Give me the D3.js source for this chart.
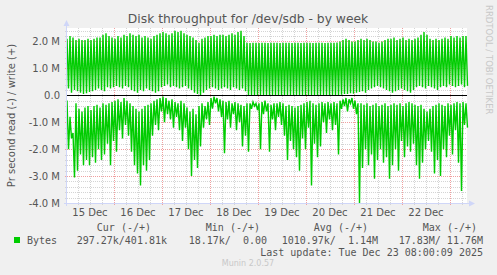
<!DOCTYPE html>
<html>
<head>
<meta charset="utf-8">
<script src="https://cdn.jsdelivr.net/npm/d3@7"></script>
<style>
body { margin: 0; background: #F0F0F0; }
svg { display: block; font-family: "DejaVu Sans", sans-serif; }
</style>
</head>
<body>
<div id="root"></div>
<script>
// samples every 1.5h from 15 Dec 00:30 UTC, in MB/s (high / low point of each cycle)
var writeHigh = [
  2.10, 2.20, 2.15, 2.05, 2.10, 2.05, 2.05, 2.10, 2.05, 2.10, 2.15,
  2.15, 2.25, 2.30, 2.20, 2.15, 2.10, 2.20, 2.15, 2.25, 2.20,
  2.30, 2.25, 2.20, 2.25, 2.15, 2.20, 2.15, 2.10, 2.20, 2.25,
  2.30, 2.35, 2.30, 2.25, 2.30, 2.40, 2.35, 2.40, 2.30, 2.25,
  2.20, 2.15, 2.05, 1.95,
  2.10, 2.15, 2.20, 2.20, 2.25, 2.20, 2.25, 2.25, 2.20, 2.25, 2.30, 2.25, 2.35, 2.40, 2.20,
  1.95, 1.94, 1.95, 1.95, 1.94, 1.95, 1.95, 1.94, 1.95, 1.95, 1.95, 1.94, 1.95, 1.95, 1.95, 1.94,
  1.95, 1.95, 1.94, 1.95, 1.95, 1.95, 1.94, 1.95, 1.95, 1.95, 1.94, 1.95, 1.95, 1.95, 1.96,
  2.00, 2.05, 2.10, 2.05, 2.00, 2.00, 2.05,
  2.10, 2.05, 2.10, 2.05, 2.00, 2.00, 1.95, 2.00, 2.05, 2.10,
  2.10, 2.15, 2.05, 2.10, 2.15, 2.05, 2.10, 2.05,
  2.10, 2.15, 2.25, 2.35, 2.25, 2.10, 2.05, 2.10, 2.05, 2.10,
  2.15, 2.10, 2.20, 2.15, 2.20, 2.15, 2.20, 2.20
];
var writeLow = [
  0.25, 0.10, 0.20, 0.15, 0.10, 0.05, 0.08, 0.12, 0.15, 0.20, 0.25, 0.20, 0.15, 0.30, 0.25,
  0.30, 0.35, 0.30, 0.25, 0.35, 0.30, 0.20, 0.15, 0.10, 0.20, 0.15, 0.25, 0.20, 0.15, 0.10, 0.15,
  0.30, 0.35, 0.40, 0.30, 0.35, 0.30, 0.25, 0.30, 0.35, 0.25,
  0.20, 0.10, 0.05, 0.00,
  0.10, 0.20, 0.25, 0.30, 0.25, 0.20, 0.25, 0.30, 0.25, 0.20, 0.30, 0.25, 0.20, 0.25, 0.15,
  0.00, 0.00, 0.00, 0.00, 0.00, 0.00, 0.00, 0.00, 0.00, 0.00, 0.00, 0.00, 0.00, 0.00, 0.00, 0.00,
  0.00, 0.00, 0.00, 0.00, 0.00, 0.00, 0.00, 0.00, 0.00, 0.00, 0.00, 0.00, 0.00, 0.00, 0.00,
  0.02, 0.05, 0.05, 0.08, 0.06, 0.10, 0.12,
  0.15, 0.10, 0.20, 0.25, 0.30, 0.35, 0.30, 0.25, 0.20, 0.15,
  0.10, 0.15, 0.20, 0.25, 0.20, 0.15, 0.10, 0.20,
  0.30, 0.35, 0.30, 0.25, 0.35, 0.30, 0.25, 0.20, 0.30, 0.35,
  0.30, 0.40, 0.35, 0.30, 0.35, 0.40, 0.30, 0.35
];
var readTop = [
  -0.19, -0.80, -1.40, -0.30, -0.50, -0.60, -0.45, -0.40, -0.55, -0.40,
  -0.35, -0.45, -0.30, -0.35, -0.30, -0.25, -0.20, -0.15, -0.25, -0.10,
  -0.20, -0.30, -0.40, -0.50, -0.60, -0.50, -0.40, -0.35, -0.30, -0.20,
  -0.15, -0.10, -0.05, -0.10, -0.20, -0.15, -0.25, -0.30, -0.20, -0.30,
  -0.45, -0.60, -0.50, -0.70, -0.40, -0.30, -0.40, -0.25, -0.10, -0.05,
  -0.10, -0.15, -0.20, -0.25, -0.20, -0.30, -0.25, -0.30, -0.35, -0.40,
  -0.30, -0.30, -0.25, -0.30, -0.30, -0.25, -0.20, -0.30, -0.35, -0.30,
  -0.30, -0.25, -0.30, -0.40, -0.35, -0.40, -0.45, -0.40, -0.35, -0.30,
  -0.25, -0.20, -0.30, -0.35, -0.30, -0.25, -0.30, -0.25, -0.30, -0.25,
  -0.30, -0.20, -0.15, -0.10, -0.15, -0.10, -0.20, -0.30, -0.30, -0.35,
  -0.30, -0.40, -0.35, -0.30, -0.40, -0.35, -0.30, -0.40, -0.35, -0.30,
  -0.35, -0.30, -0.40, -0.30, -0.25, -0.30, -0.35, -0.40, -0.35, -0.50,
  -0.60, -0.50, -0.40, -0.35, -0.30, -0.35, -0.40, -0.30, -0.35, -0.30,
  -0.25, -0.30, -0.25, -0.30
];
var readDip = [
  -2.00, -1.60, -3.05, -2.80, -2.20, -2.60, -2.40, -2.60, -2.30, -2.50,
  -2.00, -2.40, -2.20, -1.80, -2.60, -1.70, -2.10, -1.30, -1.60, -1.10,
  -1.50, -2.10, -2.60, -2.90, -3.35, -2.60, -2.80, -2.40, -1.50, -1.10,
  -1.30, -0.60, -1.00, -0.70, -0.90, -1.20, -0.80, -1.30, -1.70, -1.20,
  -2.00, -3.00, -2.40, -2.70, -1.90, -1.20, -0.90, -1.10, -0.50, -0.30,
  -0.60, -0.80, -2.15, -0.90, -1.20, -0.70, -1.30, -1.00, -1.90, -1.50,
  -2.10, -0.50, -0.40, -0.55, -2.00, -0.70, -0.60, -2.10, -0.90, -1.30,
  -0.80, -1.10, -1.50, -2.40, -1.70, -2.00, -2.30, -2.80, -1.60, -2.00,
  -1.20, -3.35, -1.80, -2.30, -1.90, -1.00, -1.40, -0.90, -1.30, -1.10,
  -2.20, -0.50, -0.40, -0.60, -0.30, -0.50, -0.70, -4.00, -2.70, -2.00,
  -2.60, -2.20, -3.10, -2.40, -2.00, -2.50, -2.30, -3.10, -2.60, -2.00,
  -2.80, -1.70, -2.30, -1.90, -2.10, -1.80, -2.60, -3.10, -2.50, -2.00,
  -1.70, -2.10, -2.90, -2.40, -3.00, -2.00, -2.30, -1.50, -2.20, -1.30,
  -2.50, -3.55, -1.10, -1.20
];
var dayLabels = ["15 Dec", "16 Dec", "17 Dec", "18 Dec", "19 Dec", "20 Dec", "21 Dec", "22 Dec"];
var yTickLabels = ["2.0 M", "1.0 M", "0.0", "-1.0 M", "-2.0 M", "-3.0 M", "-4.0 M"];
var yTickValues = [2, 1, 0, -1, -2, -3, -4];
var legendHeads = ["Cur (-/+)", "Min (-/+)", "Avg (-/+)", "Max (-/+)"];
var legendValues = ["297.27k/401.81k", "18.17k/  0.00", "1010.97k/  1.14M", "17.83M/ 11.76M"];

var W = 497, H = 275;
var pLeft = 67, pRight = 467, pTop = 28, pBottom = 203;
var t0 = Date.UTC(2025, 11, 15, 0, 30);
var step = 90 * 60 * 1000; // 1.5h
var half = 45 * 60 * 1000;

var svg = d3.select("#root").append("svg")
    .attr("width", W)
    .attr("height", H);

svg.append("rect").attr("width", W).attr("height", H).attr("fill", "#F0F0F0");

var x = d3.scaleUtc()
    .domain([new Date(t0), new Date(Date.UTC(2025, 11, 23, 8, 30))])
    .range([pLeft, pRight]);
var y = d3.scaleLinear()
    .domain([-4, 2.5])
    .range([pBottom, pTop]);

// canvas
svg.append("rect")
    .attr("x", pLeft).attr("y", pTop)
    .attr("width", pRight - pLeft).attr("height", pBottom - pTop)
    .attr("fill", "#FFFFFF");

var grid = svg.append("g").attr("shape-rendering", "crispEdges");
// minor horizontal grid every 0.2M
d3.range(-40, 25, 2).forEach(function(k) {
    if (k % 10 === 0) return;
    var yy = Math.round(y(k / 10)) + 0.5;
    grid.append("line")
        .attr("x1", pLeft - 2).attr("x2", pRight)
        .attr("y1", yy).attr("y2", yy)
        .attr("stroke", "#d4d4d4").attr("stroke-dasharray", "1,1");
});
// minor vertical grid every 6h
x.ticks(d3.utcHour.every(6)).forEach(function(d) {
    if (d.getUTCHours() === 0) return;
    var xx = Math.round(x(d)) + 0.5;
    grid.append("line")
        .attr("x1", xx).attr("x2", xx)
        .attr("y1", pTop).attr("y2", pBottom + 2)
        .attr("stroke", "#d4d4d4").attr("stroke-dasharray", "1,1");
});
// major grid
yTickValues.forEach(function(v) {
    if (v === 0) return;
    var yy = Math.round(y(v)) + 0.5;
    grid.append("line")
        .attr("x1", pLeft - 2).attr("x2", pRight)
        .attr("y1", yy).attr("y2", yy)
        .attr("stroke", "#f0a0a0").attr("stroke-dasharray", "1,1");
});
x.ticks(d3.utcDay.every(1)).forEach(function(d) {
    var xx = Math.round(x(d)) + 0.5;
    grid.append("line")
        .attr("x1", xx).attr("x2", xx)
        .attr("y1", pTop).attr("y2", pBottom + 2)
        .attr("stroke", "#f0a0a0").attr("stroke-dasharray", "1,1");
});

// series
var writePts = [], readPts = [];
writeHigh.forEach(function(v, i) {
    writePts.push([t0 + i * step, v]);
    writePts.push([t0 + i * step + half, writeLow[i]]);
});
readTop.forEach(function(v, i) {
    readPts.push([t0 + i * step, v]);
    readPts.push([t0 + i * step + half, readDip[i]]);
});
var line = d3.line()
    .x(function(d) { return x(new Date(d[0])); })
    .y(function(d) { return y(d[1]); });

svg.append("path").datum(writePts)
    .attr("d", line)
    .attr("fill", "none").attr("stroke", "#00CC00").attr("stroke-width", 1.4);
svg.append("path").datum(readPts)
    .attr("d", line)
    .attr("fill", "none").attr("stroke", "#00CC00").attr("stroke-width", 1.4);

// zero rule
var y0 = Math.round(y(0)) + 0.5;
svg.append("line")
    .attr("x1", pLeft).attr("x2", pRight)
    .attr("y1", y0).attr("y2", y0)
    .attr("stroke", "#000").attr("shape-rendering", "crispEdges");

// axes
var axisCol = "#CFD6F8";
svg.append("line").attr("x1", pLeft - 0.5).attr("x2", pLeft - 0.5)
    .attr("y1", pBottom + 3).attr("y2", pTop - 3)
    .attr("stroke", axisCol);
svg.append("path").attr("d", "M" + (pLeft - 3.5) + "," + (pTop - 2) + "L" + (pLeft - 0.5) + "," + (pTop - 8) + "L" + (pLeft + 2.5) + "," + (pTop - 2) + "Z")
    .attr("fill", axisCol);
svg.append("line").attr("x1", pLeft - 3).attr("x2", pRight + 3)
    .attr("y1", pBottom + 0.5).attr("y2", pBottom + 0.5)
    .attr("stroke", axisCol);
svg.append("path").attr("d", "M" + (pRight + 2) + "," + (pBottom - 2.5) + "L" + (pRight + 8) + "," + (pBottom + 0.5) + "L" + (pRight + 2) + "," + (pBottom + 3.5) + "Z")
    .attr("fill", axisCol);

// tick labels
svg.selectAll("text.yt").data(yTickValues).enter().append("text")
    .attr("x", 60)
    .attr("y", function(d) { return y(d) + 3.5; })
    .attr("text-anchor", "end")
    .attr("font-size", "10px").attr("fill", "#555")
    .text(function(d, i) { return yTickLabels[i]; });

var noons = x.ticks(d3.utcDay.every(1)).map(function(d) { return d3.utcHour.offset(d, -12); });
svg.selectAll("text.xt").data(dayLabels).enter().append("text")
    .attr("x", function(d, i) { return x(noons[i]); })
    .attr("y", 216)
    .attr("text-anchor", "middle")
    .attr("font-size", "10px").attr("fill", "#555")
    .text(function(d) { return d; });

// title and labels
svg.append("text")
    .attr("x", 248).attr("y", 23)
    .attr("text-anchor", "middle")
    .attr("font-size", "12.3px").attr("fill", "#555")
    .text("Disk throughput for /dev/sdb - by week");

svg.append("text")
    .attr("transform", "translate(15," + ((pTop + pBottom) / 2) + ") rotate(-90)")
    .attr("text-anchor", "middle")
    .attr("font-size", "10px").attr("fill", "#555")
    .text("Pr second read (-) / write (+)");

svg.append("text")
    .attr("transform", "translate(486,5) rotate(90)")
    .attr("text-anchor", "start")
    .attr("font-size", "8.5px").attr("fill", "#c8c8c8")
    .text("RRDTOOL / TOBI OETIKER");

// legend
var mono = "'DejaVu Sans Mono', monospace";
var headRight = [151, 260, 368, 477];
var valRight = [167, 267, 378, 483];
svg.selectAll("text.lh").data(legendHeads).enter().append("text")
    .attr("x", function(d, i) { return headRight[i]; })
    .attr("y", 231)
    .attr("text-anchor", "end")
    .attr("font-family", mono).attr("font-size", "10px").attr("fill", "#555")
    .style("white-space", "pre")
    .text(function(d) { return d; });

svg.append("rect").attr("x", 14).attr("y", 237).attr("width", 6).attr("height", 6).attr("fill", "#00CC00");
svg.append("text").attr("x", 27).attr("y", 243.5)
    .attr("font-family", mono).attr("font-size", "10px").attr("fill", "#555")
    .text("Bytes");
svg.selectAll("text.lv").data(legendValues).enter().append("text")
    .attr("x", function(d, i) { return valRight[i]; })
    .attr("y", 243.5)
    .attr("text-anchor", "end")
    .attr("font-family", mono).attr("font-size", "10px").attr("fill", "#555")
    .style("white-space", "pre")
    .text(function(d) { return d; });

svg.append("text").attr("x", 483).attr("y", 256)
    .attr("text-anchor", "end")
    .attr("font-family", mono).attr("font-size", "10px").attr("fill", "#555")
    .text("Last update: Tue Dec 23 08:00:09 2025");

svg.append("text").attr("x", 248).attr("y", 266)
    .attr("text-anchor", "middle")
    .attr("font-size", "8px").attr("fill", "#c8c8c8")
    .text("Munin 2.0.57");
</script>
</body>
</html>
